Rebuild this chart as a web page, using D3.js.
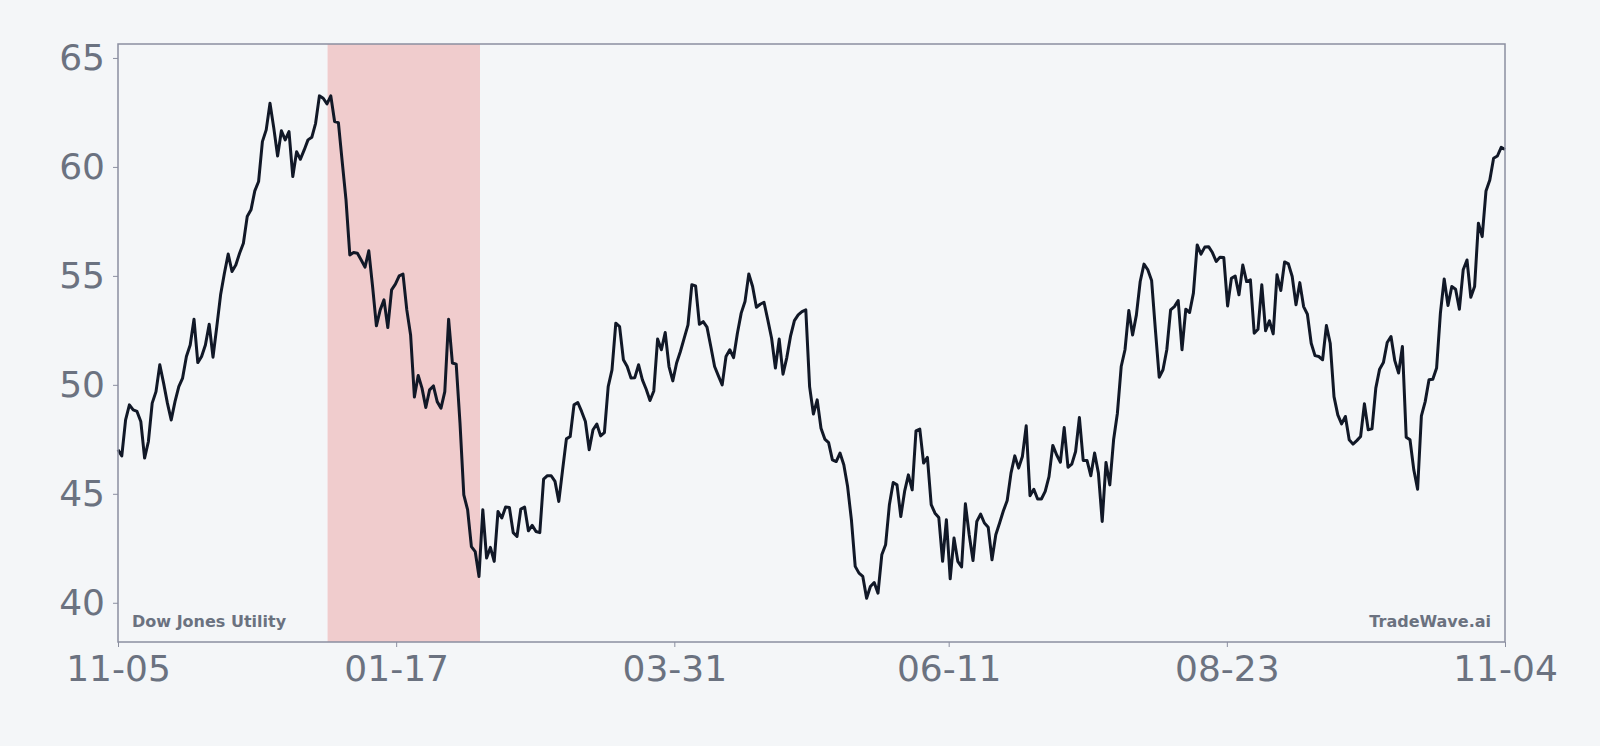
<!DOCTYPE html>
<html><head><meta charset="utf-8">
<script src="https://cdn.jsdelivr.net/npm/d3@7"></script>
<style>body{margin:0;background:#f4f6f8;}svg{display:block;font-family:"DejaVu Sans",sans-serif;}</style>
</head><body><svg id="c" width="1600" height="746"></svg>
<script>
const startDate = "2022-11-05", endDate = "2023-11-04";
const shadeStart = "2022-12-30", shadeEnd = "2023-02-08";
const yTicks = [40,45,50,55,60,65];
const xTickDates = ["2022-11-05","2023-01-17","2023-03-31","2023-06-11","2023-08-23","2023-11-04"];
const seriesName = "Dow Jones Utility", brand = "TradeWave.ai";
const values = [
47.02,46.74,48.39,49.08,48.85,48.78,48.32,46.64,47.40,49.16,49.69,50.92,50.08,49.16,48.39,49.23,49.92,50.31,51.30,51.83,53.01,51.02,51.30,51.83,52.78,51.27,52.67,54.13,55.12,56.00,55.20,55.50,56.04,56.50,57.72,58.03,58.90,59.33,61.16,61.70,62.92,61.78,60.50,61.66,61.24,61.62,59.56,60.70,60.35,60.78,61.24,61.36,62.00,63.26,63.15,62.89,63.26,62.08,62.03,60.24,58.49,55.96,56.07,56.04,55.73,55.40,56.15,54.51,52.71,53.44,53.90,52.63,54.36,54.62,55.00,55.08,53.44,52.29,49.44,50.43,49.85,48.96,49.77,49.95,49.23,48.93,49.69,53.01,51.00,50.95,48.24,44.95,44.27,42.58,42.35,41.21,
44.27,42.05,42.54,41.90,44.19,43.89,44.39,44.37,43.22,43.04,44.30,44.39,43.30,43.55,43.27,43.22,45.67,45.83,45.83,45.57,44.65,46.10,47.52,47.63,49.08,49.19,48.78,48.32,47.02,47.94,48.20,47.66,47.81,49.92,50.69,52.83,52.67,51.15,50.84,50.31,50.33,50.92,50.23,49.80,49.28,49.72,52.10,51.61,52.40,50.84,50.18,51.00,51.53,52.14,52.75,54.59,54.54,52.78,52.90,52.65,51.76,50.84,50.41,50.00,51.30,51.61,51.25,52.37,53.29,53.82,55.09,54.51,53.56,53.70,53.79,52.98,52.14,50.77,52.10,50.49,51.25,52.25,52.95,53.21,53.36,53.44,49.92,48.66,49.31,48.01,47.51,47.35,46.56,
46.48,46.87,46.33,45.33,43.81,41.67,41.36,41.21,40.21,40.75,40.93,40.44,42.20,42.66,44.50,45.52,45.41,43.96,45.11,45.87,45.18,47.89,47.97,46.41,46.67,44.50,44.11,43.91,41.90,43.81,41.10,42.97,41.90,41.64,44.54,43.12,41.94,43.73,44.07,43.66,43.47,41.97,43.12,43.66,44.22,44.69,45.95,46.74,46.18,46.71,48.12,44.91,45.21,44.76,44.76,45.11,45.79,47.22,46.79,46.45,48.04,46.22,46.36,46.94,48.50,46.53,46.53,45.83,46.87,45.95,43.73,46.44,45.41,47.48,48.70,50.84,51.61,53.41,52.29,53.21,54.74,55.54,55.28,
54.79,52.52,50.35,50.69,51.61,53.44,53.59,53.87,51.61,53.47,53.32,54.21,56.42,56.00,56.32,56.34,56.07,55.66,55.86,55.84,53.62,54.89,54.99,54.13,55.50,54.74,54.82,52.37,52.55,54.59,52.48,52.94,52.34,55.05,54.33,55.64,55.55,54.97,53.67,54.69,53.59,53.24,51.91,51.34,51.30,51.15,52.72,51.91,49.46,48.62,48.21,48.55,47.48,47.28,47.44,47.63,49.13,47.94,47.98,49.85,50.72,51.02,51.94,52.22,51.11,50.54,51.76,47.60,47.48,46.10,45.21,48.58,49.23,50.23,50.26,50.77,53.29,54.86,53.64,54.51,54.39,53.47,55.28,55.73,54.02,54.51,57.42,56.80,58.90,59.40,60.40,60.50,60.90,60.80
];

const W=1600,H=746, m={l:118,r:1505,t:44,b:642};
const p = d3.timeParse("%Y-%m-%d");
const svg = d3.select("#c");
svg.append("rect").attr("width",W).attr("height",H).attr("fill","#f4f6f8");
const x = d3.scaleTime().domain([p(startDate),p(endDate)]).range([m.l,m.r]);
const y = d3.scaleLinear().domain([38.2,65.64]).range([m.b,m.t]);
const t0 = p(startDate).getTime(), t1 = p(endDate).getTime();
const data = values.map((v,i)=>({d:new Date(t0+(t1-t0)*i/(values.length-1)),v}));

svg.append("rect").attr("x",x(p(shadeStart))).attr("y",m.t)
  .attr("width",x(p(shadeEnd))-x(p(shadeStart))).attr("height",m.b-m.t)
  .attr("fill","#f0cccd");

svg.append("path").datum(data).attr("fill","none").attr("stroke","#111827")
  .attr("stroke-width",3).attr("stroke-linejoin","round")
  .attr("d",d3.line().x(d=>x(d.d)).y(d=>y(d.v)));

svg.append("rect").attr("x",m.l).attr("y",m.t).attr("width",m.r-m.l).attr("height",m.b-m.t)
  .attr("fill","none").attr("stroke","#8b8fa0").attr("stroke-width",1.5);

const ya = svg.append("g").attr("transform",`translate(${m.l},0)`)
  .call(d3.axisLeft(y).tickValues(yTicks).tickSize(5).tickPadding(8));
const xa = svg.append("g").attr("transform",`translate(0,${m.b})`)
  .call(d3.axisBottom(x).tickValues(xTickDates.map(p)).tickFormat(d3.timeFormat("%m-%d")).tickSize(5).tickPadding(8));
[ya,xa].forEach(g=>{
  g.select(".domain").remove();
  g.selectAll(".tick line").attr("stroke","#8b8fa0");
  g.selectAll("text").attr("fill","#6b7280").style("font-size","36px").style("font-family","DejaVu Sans");
});

svg.append("text").attr("x",m.l+14).attr("y",627).text(seriesName)
  .attr("fill","#6b7280").style("font-size","16px").style("font-weight","bold");
svg.append("text").attr("x",m.r-14).attr("y",627).attr("text-anchor","end").text(brand)
  .attr("fill","#6b7280").style("font-size","16px").style("font-weight","bold");
</script></body></html>
